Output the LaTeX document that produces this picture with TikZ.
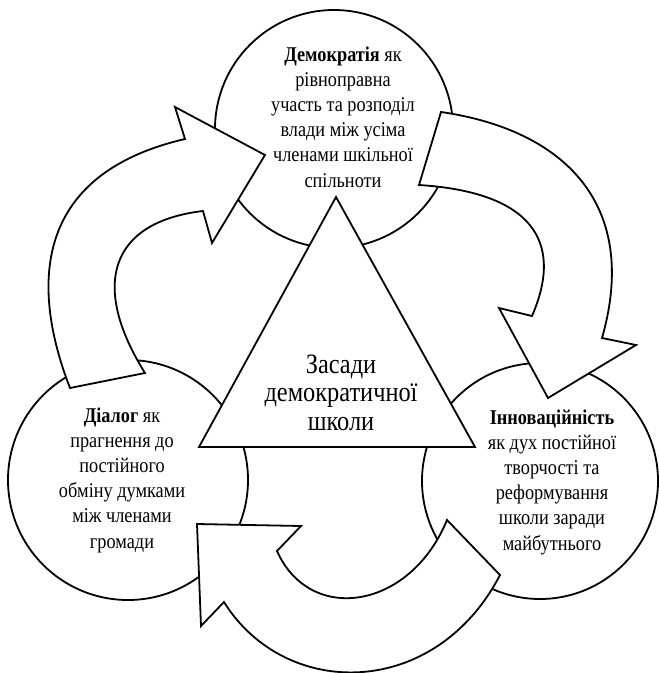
\documentclass[tikz,border=0pt]{standalone}
\usepackage{fontspec}
\setmainfont[FakeStretch=0.87]{Liberation Serif}
\begin{document}
\begin{tikzpicture}[x=1pt,y=-1pt,
  shape line/.style={draw=black,line width=1.8pt,fill=white,line join=miter},
  ring/.style={shape line},
  blockarrow/.style={shape line},
  circtext/.style={align=center,anchor=base,inner sep=0pt,font=\fontsize{21}{25.2}\selectfont},
  maintext/.style={align=center,anchor=base,inner sep=0pt,font=\fontsize{28}{28.5}\selectfont}]
\useasboundingbox (0,0) rectangle (659,673);
% circles
\draw[ring] (334,129) circle[radius=119];
\draw[ring] (128,480) circle[radius=120];
\draw[ring] (540,481) circle[radius=118];
% triangle
\draw[shape line] (336,197) -- (475,447) -- (199,447) -- cycle;
% arrows
\draw[blockarrow] (70,388) .. controls (32,290) and (30,175) .. (185,139) -- (175,107) -- (265,155) -- (212,243) -- (203,211) .. controls (110,222) and (90,285) .. (145,373) -- cycle;
\draw[blockarrow] (441,112) .. controls (565,130) and (640,205) .. (602,338) -- (636,345) -- (548,398) -- (499,308) -- (532,316) .. controls (565,240) and (530,192) .. (419,185) -- cycle;
\draw[blockarrow] (500,575) .. controls (435,700) and (285,700) .. (224,602) -- (201,626) -- (197,524) -- (301,526) -- (277,551) .. controls (310,625) and (410,610) .. (447,520) -- cycle;
% texts (base anchor = baseline of the last line)
\node[circtext] (top) at (343,187) {\textbf{Демократія} як\\рівноправна\\участь та розподіл\\влади між усіма\\членами шкільної\\спільноти};
\node[circtext] (left) at (122,548) {\textbf{Діалог} як\\прагнення до\\постійного\\обміну думками\\між членами\\громади};
\node[circtext] (right) at (552,550) {\textbf{Інноваційність}\\як дух постійної\\творчості та\\реформування\\школи заради\\майбутнього};
\node[maintext] (center) at (341,430) {Засади\\демократичної\\школи};
\end{tikzpicture}
\end{document}
